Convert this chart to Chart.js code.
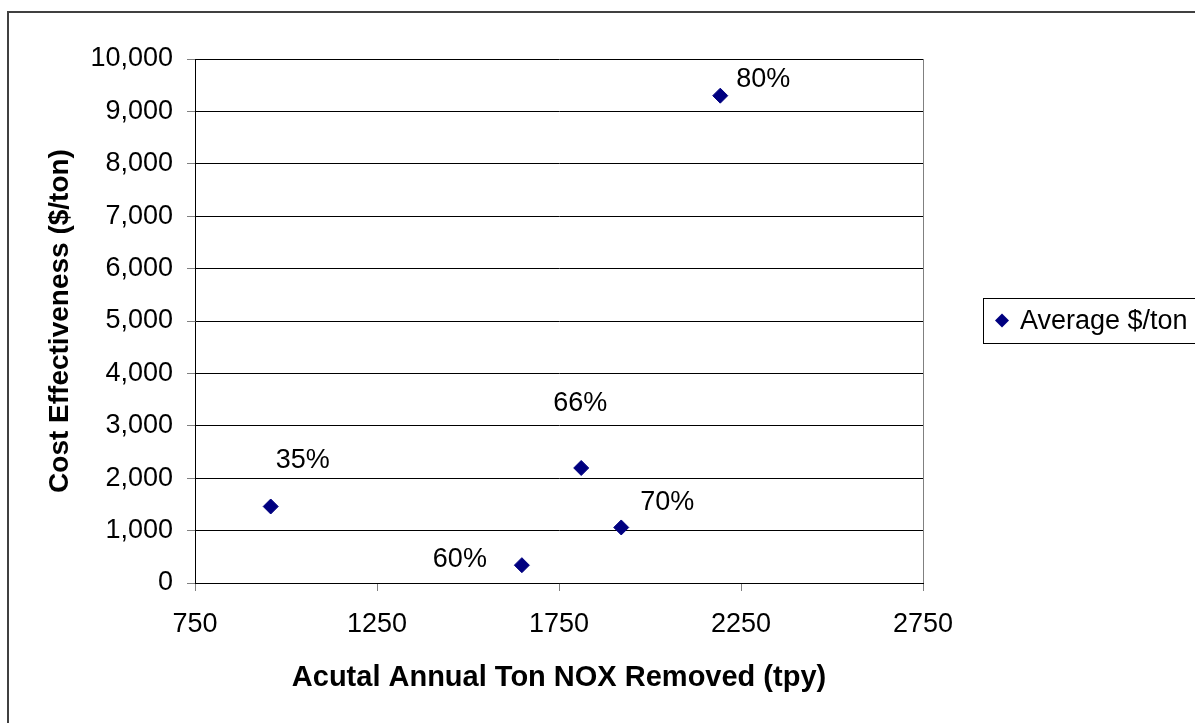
<!DOCTYPE html>
<html>
<head>
<meta charset="utf-8">
<script src="https://cdn.jsdelivr.net/npm/chart.js@4/dist/chart.umd.min.js"></script>
<style>
  html, body { margin: 0; padding: 0; background: #ffffff; }
  #wrap { width: 1195px; height: 723px; position: relative; }
</style>
</head>
<body>
<div id="wrap"><canvas id="c" width="1195" height="723"></canvas></div>
<script>
// ---- data ----
const tonsRemoved = [958, 1648, 1811, 1921, 2193];
const costPerTon  = [1460, 340, 2195, 1060, 9300];
const pointLabels = ['35%', '60%', '66%', '70%', '80%'];
const seriesName  = 'Average $/ton';
const xTitle = 'Acutal Annual Ton NOX Removed (tpy)';
const yTitle = 'Cost Effectiveness ($/ton)';
const xTickValues = [750, 1250, 1750, 2250, 2750];
const yTickValues = [0, 1000, 2000, 3000, 4000, 5000, 6000, 7000, 8000, 9000, 10000];

// label placement relative to each marker (pixels)
const labelOffsets = [[32, -46], [-62, -6], [-1, -64], [46, -25], [43, -16]];

const FONT = '"Liberation Sans", Arial, sans-serif';
const NAVY = '#000080';

const framePlugin = {
  id: 'frame',
  beforeDraw(chart) {
    const ctx = chart.ctx;
    ctx.save();
    ctx.fillStyle = '#ffffff';
    ctx.fillRect(0, 0, chart.width, chart.height);
    ctx.strokeStyle = '#404040';
    ctx.lineWidth = 2;
    ctx.beginPath();
    ctx.moveTo(8, chart.height + 2);
    ctx.lineTo(8, 12);
    ctx.lineTo(chart.width + 2, 12);
    ctx.stroke();
    ctx.restore();
  }
};

const labelPlugin = {
  id: 'pointLabels',
  afterDatasetsDraw(chart) {
    const ctx = chart.ctx;
    const meta = chart.getDatasetMeta(0);
    ctx.save();
    ctx.font = '27px ' + FONT;
    ctx.fillStyle = '#000000';
    ctx.textAlign = 'center';
    ctx.textBaseline = 'middle';
    meta.data.forEach((el, i) => {
      const off = labelOffsets[i];
      ctx.fillText(pointLabels[i], el.x + off[0], el.y + off[1]);
    });
    ctx.restore();
  }
};

const legendPlugin = {
  id: 'customLegend',
  afterDraw(chart) {
    const ctx = chart.ctx;
    const x = chart.chartArea.right + 60, y = 298, h = 45;
    ctx.save();
    ctx.strokeStyle = '#000000';
    ctx.lineWidth = 1;
    ctx.strokeRect(x + 0.5, y + 0.5, 300, h);
    const cx = x + 19, cy = y + h / 2;
    ctx.fillStyle = NAVY;
    ctx.beginPath();
    ctx.moveTo(cx, cy - 7);
    ctx.lineTo(cx + 7, cy);
    ctx.lineTo(cx, cy + 7);
    ctx.lineTo(cx - 7, cy);
    ctx.closePath();
    ctx.fill();
    ctx.font = '27px ' + FONT;
    ctx.fillStyle = '#000000';
    ctx.textAlign = 'left';
    ctx.textBaseline = 'middle';
    ctx.fillText(seriesName, x + 37, cy + 1);
    ctx.restore();
  }
};

new Chart(document.getElementById('c'), {
  type: 'scatter',
  data: {
    datasets: [{
      label: seriesName,
      data: tonsRemoved.map((v, i) => ({ x: v, y: costPerTon[i] })),
      pointStyle: 'rectRot',
      pointRadius: 7.5,
      pointHoverRadius: 7.5,
      backgroundColor: NAVY,
      borderColor: NAVY,
      borderWidth: 1
    }]
  },
  options: {
    responsive: false,
    animation: false,
    events: [],
    layout: { padding: { left: 0, top: 59, right: 272, bottom: 0 } },
    plugins: { legend: { display: false }, tooltip: { enabled: false } },
    scales: {
      x: {
        type: 'linear',
        min: xTickValues[0],
        max: xTickValues[xTickValues.length - 1],
        afterBuildTicks: s => { s.ticks = xTickValues.map(v => ({ value: v })); },
        afterFit: s => { s.height = 140; },
        ticks: {
          color: '#000000',
          font: { family: FONT, size: 27 },
          padding: 17,
          maxRotation: 0,
          callback: v => String(v)
        },
        grid: {
          drawOnChartArea: true,
          color: c => (c.index === xTickValues.length - 1 ? '#808080' : 'rgba(0,0,0,0)'),
          tickColor: '#808080',
          tickLength: 8,
          lineWidth: 1
        },
        border: { display: true, color: '#000000', width: 1 },
        title: {
          display: true,
          text: xTitle,
          color: '#000000',
          font: { family: FONT, size: 29, weight: 'bold' },
          padding: { top: 0, bottom: 28 }
        }
      },
      y: {
        type: 'linear',
        min: 0,
        max: 10000,
        afterBuildTicks: s => { s.ticks = yTickValues.map(v => ({ value: v })); },
        afterFit: s => { s.width = 195; },
        ticks: {
          color: '#000000',
          font: { family: FONT, size: 27 },
          padding: 14,
          callback: v => v.toLocaleString('en-US')
        },
        grid: {
          color: '#000000',
          tickColor: '#808080',
          tickLength: 8,
          lineWidth: 1
        },
        border: { display: true, color: '#000000', width: 1 },
        title: {
          display: true,
          text: yTitle,
          color: '#000000',
          font: { family: FONT, size: 28, weight: 'bold' },
          padding: { top: 43, bottom: 0 }
        }
      }
    }
  },
  plugins: [framePlugin, labelPlugin, legendPlugin]
});
</script>
</body>
</html>
